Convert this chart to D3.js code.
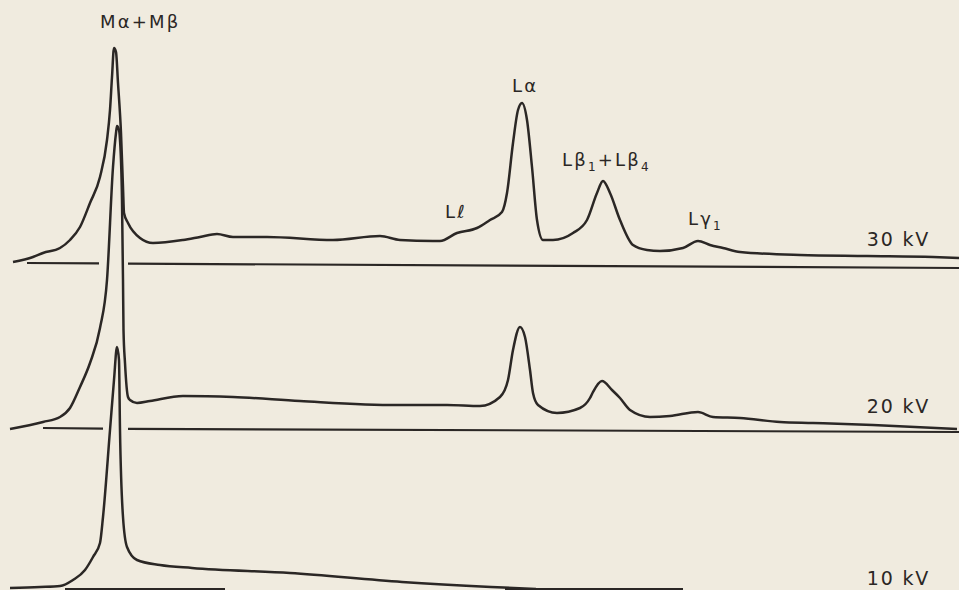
<!DOCTYPE html>
<html>
<head>
<meta charset="utf-8">
<script src="https://cdn.jsdelivr.net/npm/d3@7"></script>
<style>
  body { margin: 0; background: #f0ebdf; }
  svg text { font-family: "DejaVu Sans", sans-serif; fill: #2b2725; }
</style>
</head>
<body>
<svg id="chart" width="959" height="590"></svg>
<script>
// x = spectrometer channel, y = intensity above the trace's own baseline
var trace30 = [
  [1.3, 0.5], [3.3, 3], [4.3, 5], [6.0, 7.5], [7.0, 11.5], [8.0, 18], [9.0, 30],
  [10.0, 43], [10.7, 61.5], [11.0, 76.5], [11.2, 93], [11.4, 107.5], [11.6, 105.5],
  [11.8, 90], [12.1, 65], [12.3, 38], [12.4, 25], [12.8, 20], [14.0, 12.5], [15.3, 10],
  [18.3, 11.5], [20.0, 13], [21.7, 14.5], [23.3, 13], [26.7, 13], [33.3, 11.5],
  [38.0, 13.5], [40.0, 11.5], [43.3, 11], [44.0, 11], [45.7, 15], [47.7, 17.5],
  [49.0, 21.5], [50.2, 25.5], [50.7, 35], [51.3, 60], [51.8, 76.5], [52.2, 80],
  [52.7, 71.5], [53.2, 48], [53.7, 21.5], [54.3, 11.5], [55.3, 11.5], [57.3, 15],
  [58.7, 21.5], [59.7, 35], [60.3, 41], [61.0, 35], [62.0, 21.5], [63.3, 9],
  [64.7, 6.5], [66.0, 6], [68.3, 7.5], [69.8, 11], [71.0, 9], [72.3, 7.5], [74.0, 5.5],
  [80.0, 4], [86.7, 3.5], [93.3, 3], [95.9, 2.5]
];
var trace20 = [
  [1.0, -0.5], [4.3, 3], [6.0, 5.5], [7.0, 10], [8.0, 20.5], [9.0, 32.5], [10.0, 50],
  [10.7, 74], [11.3, 130.5], [11.6, 147.5], [11.7, 151], [11.9, 149], [12.0, 144],
  [12.2, 114], [12.3, 74], [12.35, 49], [12.5, 32.5], [12.8, 15.5], [13.0, 14],
  [13.7, 12.5], [15.0, 13.5], [18.3, 16], [23.3, 15.5], [30.0, 13.5], [39.7, 11.5],
  [44.7, 11.5], [48.0, 11], [50.0, 15.5], [50.8, 24], [51.3, 39], [52.0, 50.5],
  [52.5, 45.5], [53.0, 29], [53.3, 17.5], [53.8, 11.5], [55.7, 7.5], [58.0, 10],
  [59.0, 15], [59.3, 18], [60.2, 23.5], [61.2, 19], [62.0, 15], [63.0, 9], [65.0, 5.5],
  [67.0, 6], [69.8, 8], [71.3, 5.5], [74.0, 5], [78.0, 3], [81.3, 2.5], [87.3, 1.5],
  [95.7, -0.5]
];
var trace10 = [
  [1.0, 0.5], [4.0, 1], [6.0, 1.5], [7.3, 4.5], [8.5, 9.5], [9.3, 16], [10.0, 23],
  [10.3, 36], [11.0, 79.5], [11.4, 104.5], [11.7, 121], [11.9, 114.5], [12.0, 79.5],
  [12.3, 36], [12.7, 21], [13.7, 14.5], [16.0, 12], [19.2, 10.5], [29.0, 8],
  [40.2, 3.5], [49.1, 1], [53.6, 0]
];

// zero-intensity reference lines, broken where the lower trace's peak crosses
var zero30 = [[[2.7, 0], [9.9, -0.2]], [[12.8, -0.3], [95.9, -2.5]]];
var zero20 = [[[4.3, 0], [10.3, -0.3]], [[12.8, -0.4], [95.9, -2]]];
var zero10 = [[[6.5, 0], [22.5, 0]], [[50.5, 0], [68.3, 0]]];

var voltages = ['30 kV', '20 kV', '10 kV'];

// peak names, placed in channel / intensity units of the 30 kV trace
var peakNames = [
  { parts: [['Mα+Mβ', 0]], ch: 10.0, val: 117.5 },
  { parts: [['Lα', 0]], ch: 51.2, val: 85.5 },
  { parts: [['Lβ', 0], ['1', 1], ['+Lβ', 0], ['4', 1]], ch: 56.2, val: 48.5 },
  { parts: [['Lℓ', 0]], ch: 44.5, val: 22.5 },
  { parts: [['Lγ', 0], ['1', 1]], ch: 68.8, val: 19 }
];

var W = 959, H = 590;
var svg = d3.select('#chart');
svg.append('rect').attr('width', W).attr('height', H).attr('fill', '#f0ebdf');

var x = d3.scaleLinear().domain([0, 95.9]).range([0, 959]);

// layout of the three stacked spectra (pixel row of each zero line)
var panels = [
  { label: voltages[0], trace: trace30, zero: zero30, base: 263, labelVal: 8.5 },
  { label: voltages[1], trace: trace20, zero: zero20, base: 428, labelVal: 7.5 },
  { label: voltages[2], trace: trace10, zero: zero10, base: 589, labelVal: 2 }
];

var ink = '#2b2725';

panels.forEach(function(p) {
  p.y = d3.scaleLinear().domain([0, 100]).range([p.base, p.base - 200]);
  var line = d3.line()
    .x(function(d) { return x(d[0]); })
    .y(function(d) { return p.y(d[1]); });

  var g = svg.append('g').attr('class', 'panel');

  g.selectAll('path.zero')
    .data(p.zero)
    .enter().append('path')
    .attr('class', 'zero')
    .attr('d', line)
    .attr('fill', 'none')
    .attr('stroke', ink)
    .attr('stroke-width', 2.2);

  g.append('path')
    .datum(p.trace)
    .attr('d', line.curve(d3.curveMonotoneX))
    .attr('fill', 'none')
    .attr('stroke', ink)
    .attr('stroke-width', 2.5)
    .attr('stroke-linejoin', 'round');

  g.append('text')
    .attr('x', x(93.0))
    .attr('y', p.y(p.labelVal))
    .attr('text-anchor', 'end')
    .attr('font-size', 19)
    .attr('letter-spacing', 1.8)
    .text(p.label);
});

var y30 = panels[0].y;
peakNames.forEach(function(n) {
  var t = svg.append('text')
    .attr('x', x(n.ch))
    .attr('y', y30(n.val))
    .attr('font-size', 18)
    .attr('letter-spacing', 2.2);
  n.parts.forEach(function(part, i) {
    var prev = i > 0 ? n.parts[i - 1][1] : 0;
    t.append('tspan')
      .attr('font-size', part[1] ? 12 : 18)
      .attr('dy', part[1] && !prev ? 5 : (!part[1] && prev ? -5 : 0))
      .text(part[0]);
  });
});
</script>
</body>
</html>
